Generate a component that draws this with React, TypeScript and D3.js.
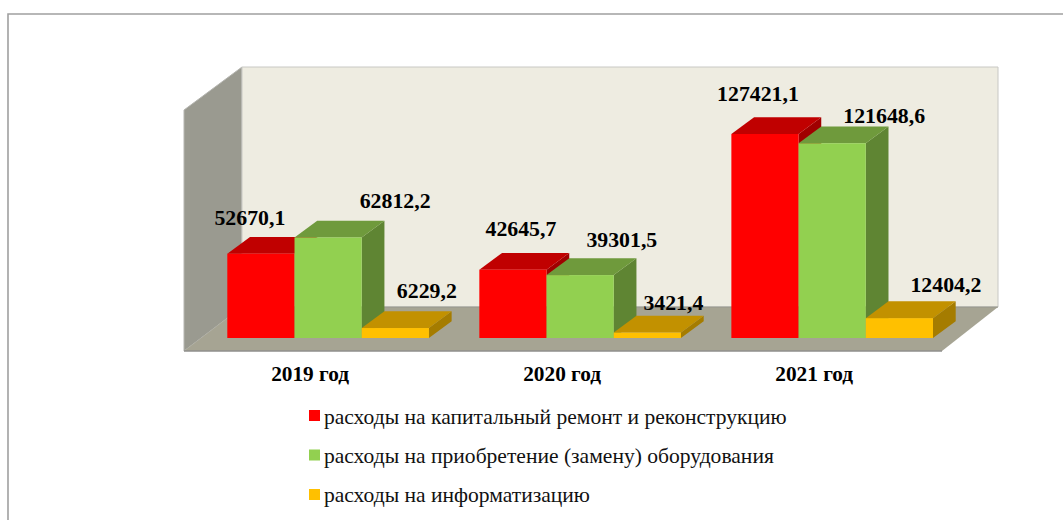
import React from "react";
import * as d3 from "d3";

const categories = ["2019 год", "2020 год", "2021 год"];
const seriesNames = [
  "расходы на капитальный ремонт и реконструкцию",
  "расходы на приобретение (замену) оборудования",
  "расходы на информатизацию",
];
const capital = [52670.1, 42645.7, 127421.1];
const equipment = [62812.2, 39301.5, 121648.6];
const informatization = [6229.2, 3421.4, 12404.2];
const labelOffsets = [
  [[-11, -28.5], [67, -29.7], [31.5, -30]],
  [[8, -33.7], [41.7, -28.3], [26, -23]],
  [[-7, -33.3], [52, -20.3], [46.5, -26.3]],
];
const front = ["#ff0000", "#92d050", "#ffc000"];
const top = ["#c00000", "#6f9a3c", "#c29100"];
const side = ["#a00000", "#5f8533", "#a57c00"];

const fmt = (v: number) => v.toFixed(1).replace(".", ",");
const pts = (p: number[][]) => p.map((d) => d.join(",")).join(" ");

const W = 1063, H = 520;
const baseY = 338;
const dx = 22.7, dy = 16.8;

export default function App() {
  const series = [capital, equipment, informatization];
  const x0 = d3.scaleBand<string>().domain(categories).range([227.3, 933]).paddingInner(0.2);
  const x1 = d3.scaleBand<number>().domain([0, 1, 2]).range([0, x0.bandwidth()]);
  const y = d3.scaleLinear().domain([0, 127421.1]).range([baseY, 134]);

  return (
    <svg width={W} height={H} style={{ position: "absolute", left: 0, top: 0, background: "#fff" }}
      fontFamily="'Liberation Serif', serif">
      <path d="M8,520 V14 H1063" fill="none" stroke="#a0a0a0" strokeWidth={1.6} />
      {/* walls */}
      <polygon points={pts([[184, 110], [242, 67], [242, 307], [184, 351]])} fill="#9a9a90" stroke="#b5b5b0" />
      <polygon points={pts([[242, 67], [998, 67], [998, 307], [242, 307]])} fill="#eeece1" stroke="#c8c8c4" />
      <polygon points={pts([[242, 307], [998, 307], [942, 351], [184, 351]])} fill="#a6a493" />
      <line x1={184} x2={942} y1={351} y2={351} stroke="#8f8f8c" strokeWidth={1.6} />
      <line x1={242} x2={998} y1={307} y2={307} stroke="#96968e" strokeWidth={1.2} />
      {categories.map((c, ci) => (
        <g key={c}>
          {series.map((vals, si) => {
            const xl = x0(c)! + x1(si)!;
            const xr = xl + x1.bandwidth();
            const yt = y(vals[ci]);
            return (
              <g key={si}>
                <polygon points={pts([[xr, yt], [xr + dx, yt - dy], [xr + dx, baseY - dy], [xr, baseY]])} fill={side[si]} />
                <polygon points={pts([[xl, yt], [xl + dx, yt - dy], [xr + dx, yt - dy], [xr, yt]])} fill={top[si]} />
                <rect x={xl} y={yt} width={x1.bandwidth()} height={baseY - yt} fill={front[si]} />
              </g>
            );
          })}
          <text x={x0(c)! + x0.bandwidth() / 2 - 18} y={381} textAnchor="middle" fontSize={21.3} fontWeight="bold" fill="#000">{c}</text>
        </g>
      ))}
      {categories.map((c, ci) =>
        series.map((vals, si) => {
          const xc = x0(c)! + x1(si)! + x1.bandwidth() / 2;
          const [ox, oy] = labelOffsets[ci][si];
          return (
            <text key={c + si} x={xc + ox} y={y(vals[ci]) + oy} textAnchor="middle" fontSize={21.8} fontWeight="bold" fill="#000">
              {fmt(vals[ci])}
            </text>
          );
        })
      )}
      {seriesNames.map((n, i) => (
        <g key={n}>
          <rect x={309} y={410 + i * 39.5} width={11} height={11} fill={front[i]} />
          <text x={324} y={423.5 + i * 39} fontSize={21.55} fill="#111">{n}</text>
        </g>
      ))}
    </svg>
  );
}
